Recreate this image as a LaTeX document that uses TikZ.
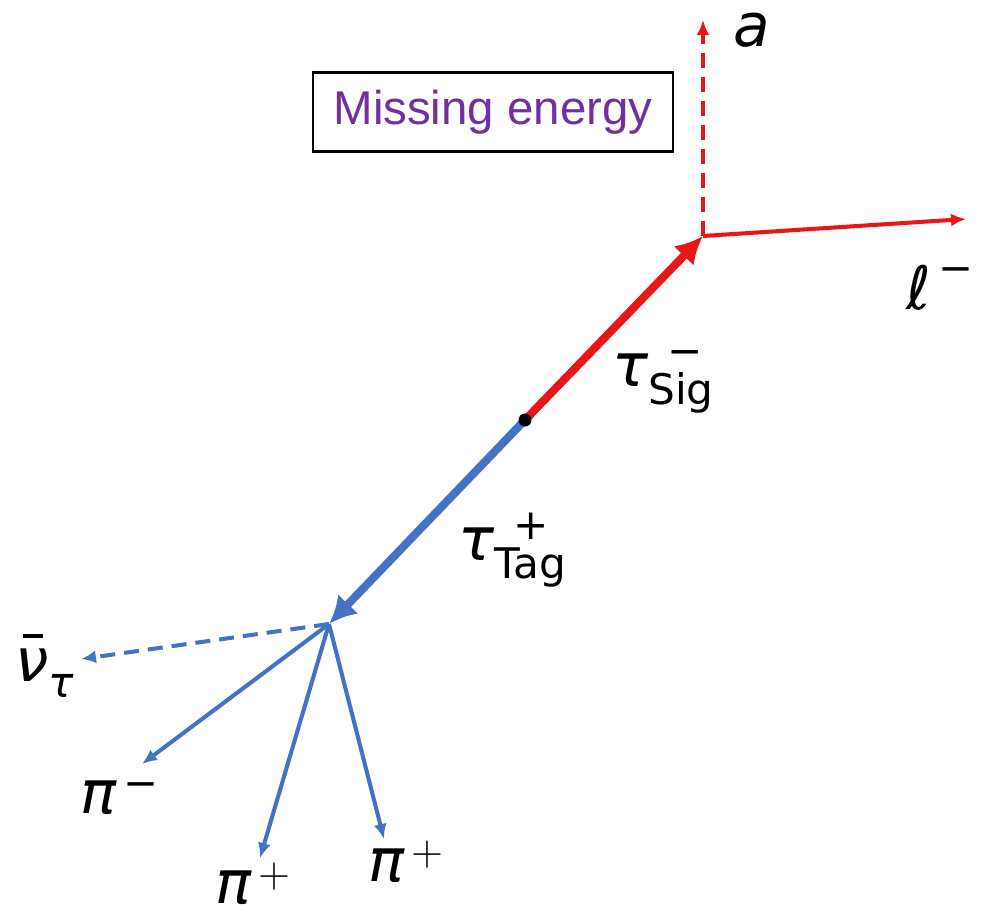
\documentclass[tikz,border=0pt]{standalone}
\usepackage{fontspec}
\usepackage{amsmath}
\setmainfont{DejaVu Sans}
\newfontfamily\boxfont{Liberation Sans}
\usetikzlibrary{arrows.meta, positioning}
\definecolor{sigred}{RGB}{232,22,22}
\definecolor{tagblue}{RGB}{68,114,196}
\definecolor{mepurple}{RGB}{112,48,160}
% particle with stacked charge and subscript
\newcommand{\ptcl}[3]{\textit{#1}\rlap{\hspace{0.32em}\raisebox{0.36em}{\fontsize{24}{24}\selectfont #2}}\raisebox{-0.3em}{\fontsize{24}{24}\selectfont #3}}

\begin{document}
\begin{tikzpicture}[
    x=0.02cm, y=-0.02cm,
    every node/.style={font=\fontsize{34}{40}\selectfont, inner sep=0pt},
    thickarr/.style={-{Latex[length=0.55cm, width=0.56cm]}, line width=4.6pt},
    thinarr/.style={-{Latex[length=0.3cm, width=0.26cm]}, line width=2.3pt},
    dasharr/.style={thinarr, dash pattern=on 0.3cm off 0.18cm},
    lbl/.style={text=black},
    mebox/.style={draw, line width=1.2pt, minimum width=7.2cm, minimum height=1.58cm, font=\boxfont\fontsize{27}{32}\selectfont, text=mepurple}
]
\useasboundingbox (0,0) rectangle (997,919);

% ===== vertices =====
\coordinate (O) at (525,420);
\coordinate (S) at (703,236);
\coordinate (T) at (329,624);

% ===== free ends =====
\coordinate (atip)  at (703,20);
\coordinate (ltip)  at (966,219);
\coordinate (nutip) at (81,659);
\coordinate (pm)    at (142,764);
\coordinate (pp1)   at (260,858);
\coordinate (pp2)   at (384,839);

% ===== signal side (red) =====
\draw[thickarr, sigred] (O) -- (S);
\draw[dasharr, sigred] (S) -- (atip);
\draw[thinarr, sigred] (S) -- (ltip);

% ===== tag side (blue) =====
\draw[thickarr, tagblue] (O) -- (T);
\draw[dasharr, tagblue] (T) -- (nutip);
\draw[thinarr, tagblue] (T) -- (pm);
\draw[thinarr, tagblue] (T) -- (pp1);
\draw[thinarr, tagblue] (T) -- (pp2);

\fill[black] (O) circle (0.13cm);

% ===== labels =====
\node[mebox] (me) at (493,112) {Missing energy};
\node[lbl] (la) at (752,30) {\textit{a}};
\node[lbl] (ll) at (940,288) {$\text{ℓ}^{\,\text{−}}$};
\node[lbl] (lsig) at (663,382) {\ptcl{τ}{−}{Sig}};
\node[lbl] (ltag) at (512,550) {\ptcl{τ}{+}{Tag}};
\node[lbl] (lnu) at (45,666) {\textit{ν}\llap{\raisebox{0.72em}{\rule{0.34em}{0.07em}}\hspace{0.1em}}\raisebox{-0.28em}{\fontsize{24}{24}\selectfont\textit{τ}}};
\node[lbl] (lpm) at (120,798) {$\textit{π}^{\,\text{−}}$};
\node[lbl] (lpp1) at (253,884) {$\textit{π}^{\,+}$};
\node[lbl] (lpp2) at (406,862) {$\textit{π}^{\,+}$};

\end{tikzpicture}
\end{document}
